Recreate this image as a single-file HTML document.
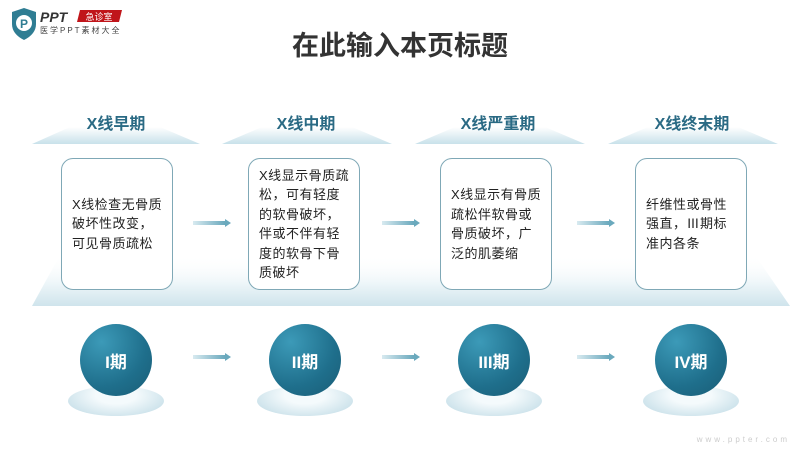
<!DOCTYPE html>
<html><head><meta charset="utf-8"><style>
body{margin:0;width:800px;height:450px;background:#fff;position:relative;overflow:hidden;font-family:"Liberation Sans","Noto Sans CJK SC",sans-serif}
.abs{position:absolute}
.title{left:0;width:800px;top:24px;text-align:center;font-size:27px;font-weight:bold;color:#333}
.hd{position:absolute;top:110px;width:180px;text-align:center;font-size:16px;font-weight:bold;color:#2a6a84}
.box{position:absolute;top:158px;height:132px;width:112px;border:1px solid #7fa8b6;border-radius:12px;background:#fff;box-sizing:border-box;display:flex;align-items:center;padding:0 0 0 10px;font-size:13px;line-height:19.5px;color:#222;letter-spacing:0.5px;white-space:nowrap}
.sph{position:absolute;width:72px;height:72px;border-radius:50%;background:radial-gradient(circle at 30% 25%,#3c9ab8,#1f6f8c 60%,#195c75);color:#fff;font-weight:bold;font-size:17px;display:flex;align-items:center;justify-content:center}
.base{position:absolute;width:96px;height:30px;border-radius:50%;background:radial-gradient(ellipse at 50% 30%,#f4fafc 30%,#cfe4ec 75%,#a9cfdc)}
</style></head><body>
<svg class="abs" style="left:0;top:0" width="800" height="450">
<defs>
<linearGradient id="tg" x1="0" y1="0" x2="0" y2="1"><stop offset="0" stop-color="#fff"/><stop offset="1" stop-color="#c8e1ea"/></linearGradient>
<linearGradient id="bg" x1="0" y1="0" x2="0" y2="1"><stop offset="0" stop-color="#fff" stop-opacity="0"/><stop offset="0.55" stop-color="#eef6f9"/><stop offset="1" stop-color="#cfe4ec"/></linearGradient>
<linearGradient id="ag" x1="0" y1="0" x2="1" y2="0"><stop offset="0" stop-color="#d8eaf0"/><stop offset="1" stop-color="#6aa9bd"/></linearGradient>
</defs>
<polygon points="70,127 160,127 200,144 32,144" fill="url(#tg)"/>
<polygon points="262,127 352,127 392,144 222,144" fill="url(#tg)"/>
<polygon points="455,127 545,127 585,144 415,144" fill="url(#tg)"/>
<polygon points="648,127 738,127 778,144 608,144" fill="url(#tg)"/>
<polygon points="60,255 755,255 790,306 32,306" fill="url(#bg)"/>
<g fill="url(#ag)">
<rect x="193" y="221" width="32" height="4"/><polygon points="225,219 231,223 225,227" fill="#6aa9bd"/>
<rect x="382" y="221" width="32" height="4"/><polygon points="414,219 420,223 414,227" fill="#6aa9bd"/>
<rect x="577" y="221" width="32" height="4"/><polygon points="609,219 615,223 609,227" fill="#6aa9bd"/>
<rect x="193" y="355" width="32" height="4"/><polygon points="225,353 231,357 225,361" fill="#6aa9bd"/>
<rect x="382" y="355" width="32" height="4"/><polygon points="414,353 420,357 414,361" fill="#6aa9bd"/>
<rect x="577" y="355" width="32" height="4"/><polygon points="609,353 615,357 609,361" fill="#6aa9bd"/>
</g>
<path d="M12 12 L24 8 L36 12 L36 24 Q36 34 24 40 Q12 34 12 24 Z" fill="#2f7d93"/>
<circle cx="24" cy="23" r="8" fill="#fff"/><text x="24" y="28" font-size="12" font-weight="bold" fill="#2f7d93" text-anchor="middle" font-family="Liberation Sans">P</text>
<text x="40" y="22" font-size="14" font-weight="bold" font-style="italic" fill="#333" font-family="Liberation Sans">PPT</text>
<polygon points="80,10 122,10 119,22 77,22" fill="#c0151a"/>
<text x="99" y="20" font-size="9" fill="#fff" text-anchor="middle">急诊室</text>
<text x="40" y="33" font-size="8" fill="#444" letter-spacing="2">医学PPT素材大全</text>
<text x="790" y="442" font-size="8" fill="#ccc" text-anchor="end" letter-spacing="3" font-family="Liberation Sans">www.ppter.com</text>
</svg>
<div class="abs title">在此输入本页标题</div>
<div class="hd" style="left:26px">X线早期</div>
<div class="hd" style="left:216px">X线中期</div>
<div class="hd" style="left:408px">X线严重期</div>
<div class="hd" style="left:602px">X线终末期</div>
<div class="box" style="left:61px"><div>X线检查无骨质<br>破坏性改变，<br>可见骨质疏松</div></div>
<div class="box" style="left:248px"><div>X线显示骨质疏<br>松，可有轻度<br>的软骨破坏，<br>伴或不伴有轻<br>度的软骨下骨<br>质破坏</div></div>
<div class="box" style="left:440px"><div>X线显示有骨质<br>疏松伴软骨或<br>骨质破坏，广<br>泛的肌萎缩</div></div>
<div class="box" style="left:635px"><div>纤维性或骨性<br>强直，Ⅲ期标<br>准内各条</div></div>
<div class="base" style="left:68px;top:386px"></div>
<div class="base" style="left:257px;top:386px"></div>
<div class="base" style="left:446px;top:386px"></div>
<div class="base" style="left:643px;top:386px"></div>
<div class="sph" style="left:80px;top:324px">I期</div>
<div class="sph" style="left:269px;top:324px">II期</div>
<div class="sph" style="left:458px;top:324px">III期</div>
<div class="sph" style="left:655px;top:324px">IV期</div>
</body></html>
